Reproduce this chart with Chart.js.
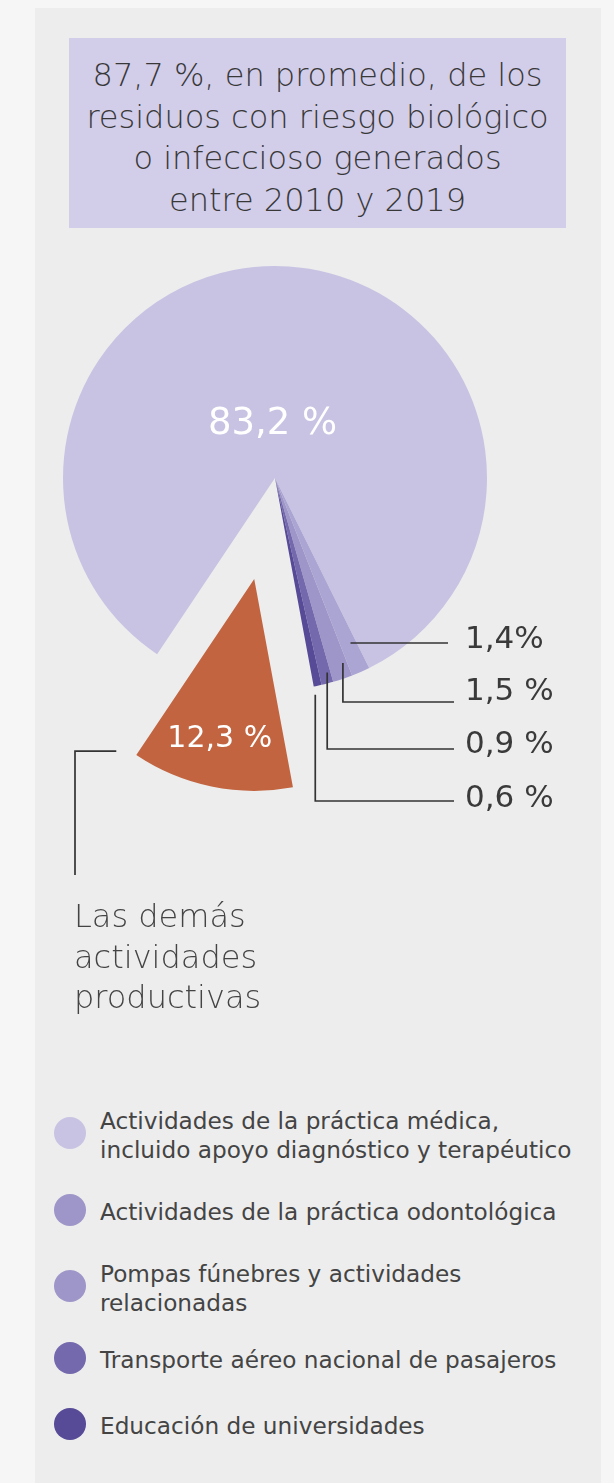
<!DOCTYPE html>
<html lang="es">
<head>
<meta charset="utf-8">
<title>Residuos con riesgo biológico</title>
<script src="https://cdn.jsdelivr.net/npm/chart.js@4.4.1/dist/chart.umd.min.js"></script>
<style>
  html, body { margin: 0; padding: 0; }
  body { width: 614px; height: 1483px; background: #f6f6f6; position: relative; overflow: hidden; font-family: "DejaVu Sans", sans-serif; }
  #panel { position: absolute; left: 35px; top: 8px; width: 566px; height: 1475px; background: #ededed; }
  #title {
    position: absolute; left: 69px; top: 38px; width: 497px; height: 190px; box-sizing: border-box;
    padding-top: 17px; background: #d2cde9; color: #383838; text-align: center;
    font-weight: 200; font-size: 32px; line-height: 41.5px; white-space: nowrap;
  }
  #wrap { position: absolute; left: 0; top: 240px; width: 614px; height: 800px; }
  #other {
    position: absolute; left: 74px; top: 896px; color: #444;
    font-weight: 200; font-size: 32px; line-height: 40.5px;
  }
  #legend { position: absolute; left: 54px; top: 1106px; margin: 0; padding: 0; list-style: none; width: 560px; }
  #legend li { display: flex; align-items: center; margin-bottom: 33px; }
  #legend .dot { flex: none; width: 32px; height: 32px; border-radius: 50%; margin-right: 14px; margin-top: -4px; }
  #legend .txt { color: #444; font-size: 23.2px; line-height: 29px; white-space: nowrap; }
</style>
</head>
<body>
<div id="panel"></div>
<div id="title">87,7 %, en promedio, de los<br>residuos con riesgo biológico<br>o infeccioso generados<br>entre 2010 y 2019</div>
<div id="wrap"><canvas id="pie"></canvas></div>
<div id="other"></div>
<ul id="legend"></ul>

<script>
// categorias (en el orden del pastel, en sentido horario)
const categories = [
  ['Actividades de la práctica médica,', 'incluido apoyo diagnóstico y terapéutico'],
  ['Actividades de la práctica odontológica'],
  ['Pompas fúnebres y actividades', 'relacionadas'],
  ['Transporte aéreo nacional de pasajeros'],
  ['Educación de universidades'],
  ['Las demás', 'actividades', 'productivas']
];
// porcentajes
const values = [83.2, 1.4, 1.5, 0.9, 0.6, 12.3];
// textos de las etiquetas
const valueLabels = ['83,2 %', '1,4%', '1,5 %', '0,9 %', '0,6 %', '12,3 %'];
// colores de cada porcion
const sliceColors = ['#c8c3e3', '#aba5d3', '#9e96c8', '#7469ad', '#574a97', '#c26440'];
const legendColors = ['#c8c3e3', '#9e96c8', '#9e96c8', '#7469ad', '#574a97'];

const EXPLODED = 5;      // porcion separada
const EXPLODE_PX = 103;  // distancia de separacion
const RADIUS = 212;
const FONT = '"DejaVu Sans"';

// filas de etiquetas a la derecha (y en coordenadas del canvas)
// t: posicion angular dentro de la porcion, r: fraccion del radio
const rightRows = [
  { idx: 1, t: 0.38, r: 0.86, lineY: 403, textY: 400, lineEnd: 448 },
  { idx: 2, t: 0.22, r: 0.93, lineY: 462, textY: 452, lineEnd: 454 },
  { idx: 3, t: 0.28, r: 0.95, lineY: 509, textY: 505, lineEnd: 454 },
  { idx: 4, t: 1.0, r: 1.04, lineY: 561, textY: 559, lineEnd: 454 }
];
const TEXT_X = 465;
const legendGaps = [33, 33, 28, 37, 0];

// leyenda html
const legendEl = document.getElementById('legend');
for (let i = 0; i < 5; i++) {
  const li = document.createElement('li');
  li.style.marginBottom = legendGaps[i] + 'px';
  li.innerHTML = '<span class="dot" style="background:' + legendColors[i] + '"></span>' +
    '<span class="txt">' + categories[i].join('<br>') + '</span>';
  legendEl.appendChild(li);
}
document.getElementById('other').innerHTML = categories[EXPLODED].join('<br>');

// separa una porcion desplazando su dibujo
const explode = {
  id: 'explode',
  afterUpdate(chart) {
    const arc = chart.getDatasetMeta(0).data[EXPLODED];
    if (!arc || arc._moved) return;
    const base = arc.draw;
    arc.draw = function (ctx) {
      const mid = (this.startAngle + this.endAngle) / 2;
      ctx.save();
      ctx.translate(Math.cos(mid) * EXPLODE_PX, Math.sin(mid) * EXPLODE_PX);
      base.call(this, ctx);
      ctx.restore();
    };
    arc._moved = true;
  }
};

// etiquetas y lineas guia
const labels = {
  id: 'labels',
  afterDatasetsDraw(chart) {
    const ctx = chart.ctx;
    const arcs = chart.getDatasetMeta(0).data;
    const at = (arc, r, shift, t) => {
      const mid = (arc.startAngle + arc.endAngle) / 2;
      const ang = t === undefined ? mid : arc.startAngle + (arc.endAngle - arc.startAngle) * t;
      const sx = shift ? Math.cos(mid) * shift : 0;
      const sy = shift ? Math.sin(mid) * shift : 0;
      return { x: arc.x + sx + Math.cos(ang) * r, y: arc.y + sy + Math.sin(ang) * r };
    };
    ctx.save();
    ctx.textBaseline = 'middle';

    // valores dentro del pastel
    ctx.fillStyle = '#ffffff';
    ctx.textAlign = 'center';
    let p = at(arcs[0], arcs[0].outerRadius * 0.26, 0);
    ctx.font = '400 37px ' + FONT;
    ctx.fillText(valueLabels[0], p.x - 6, p.y + 1);
    p = at(arcs[EXPLODED], arcs[EXPLODED].outerRadius * 0.76, EXPLODE_PX);
    ctx.font = '400 30px ' + FONT;
    ctx.fillText(valueLabels[EXPLODED], p.x - 2, p.y + 3);

    // lineas guia de las porciones pequenas
    ctx.strokeStyle = '#333333';
    ctx.lineWidth = 1.7;
    rightRows.forEach((row, k) => {
      const a = at(arcs[row.idx], arcs[row.idx].outerRadius * row.r, 0, row.t);
      ctx.beginPath();
      if (k === 0) {
        ctx.moveTo(a.x, row.lineY);
      } else {
        ctx.moveTo(a.x, a.y);
        ctx.lineTo(a.x, row.lineY);
      }
      ctx.lineTo(row.lineEnd, row.lineY);
      ctx.stroke();
      ctx.fillStyle = '#3a3a3a';
      ctx.textAlign = 'left';
      ctx.font = '400 31px ' + FONT;
      ctx.fillText(valueLabels[row.idx], TEXT_X, row.textY);
    });

    // linea guia de la porcion separada
    const ex = arcs[EXPLODED];
    const c = at(ex, 0, EXPLODE_PX);
    const corner = { x: c.x + Math.cos(ex.endAngle) * ex.outerRadius, y: c.y + Math.sin(ex.endAngle) * ex.outerRadius };
    ctx.beginPath();
    ctx.moveTo(corner.x - 20, corner.y - 4);
    ctx.lineTo(75, corner.y - 4);
    ctx.lineTo(75, 635);
    ctx.stroke();
    ctx.restore();
  }
};

new Chart(document.getElementById('pie'), {
  type: 'pie',
  data: {
    labels: categories,
    datasets: [{
      data: values,
      backgroundColor: sliceColors,
      borderWidth: 0
    }]
  },
  options: {
    responsive: true,
    maintainAspectRatio: false,
    animation: false,
    rotation: -146.2,
    radius: RADIUS,
    layout: { padding: { left: 0, right: 64, top: 0, bottom: 324 } },
    plugins: {
      legend: { display: false },
      tooltip: { enabled: false }
    }
  },
  plugins: [explode, labels]
});
</script>
</body>
</html>
